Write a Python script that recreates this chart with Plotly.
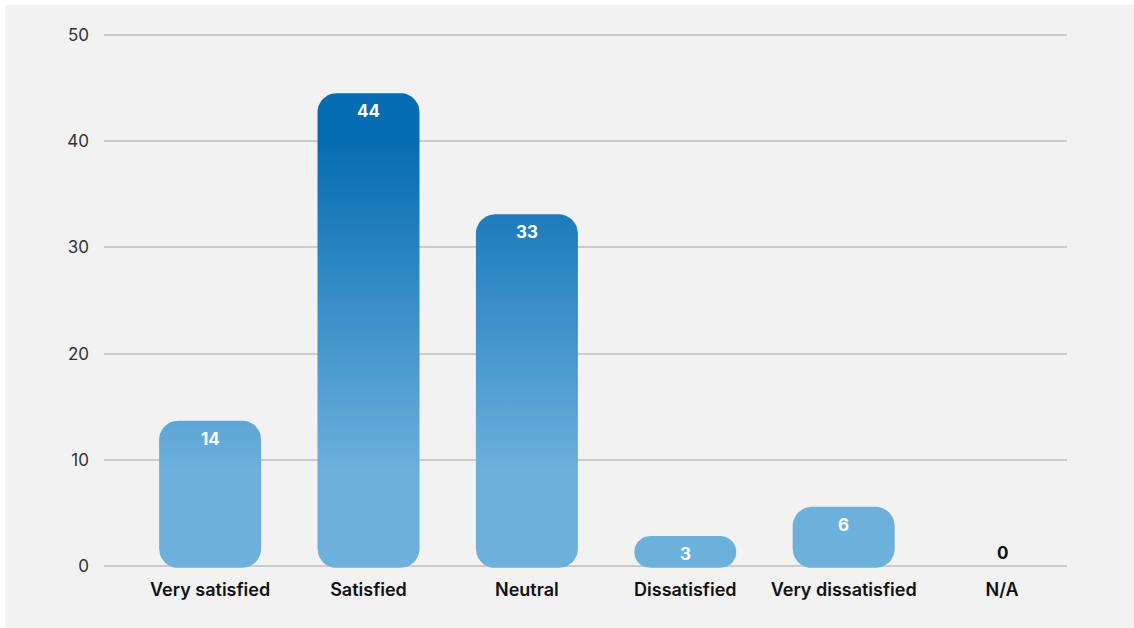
import plotly.graph_objects as go
import math

# ---- data ----
categories = ["Very satisfied", "Satisfied", "Neutral", "Dissatisfied", "Very dissatisfied", "N/A"]
bar_heights = [13.7, 44.5, 33.1, 2.85, 5.6, 0]   # bar heights as drawn
value_labels = [14, 44, 33, 3, 6, 0]              # labels printed on the bars
y_ticks = [0, 10, 20, 30, 40, 50]

# ---- layout constants ----
W, H = 1134, 628
ML, MR, MT, MB = 104, 67, 24, 51
X_RANGE = [-0.67, 5.41]
Y_RANGE = [-1, 51]
plot_w = W - ML - MR
plot_h = H - MT - MB
px_per_x = plot_w / (X_RANGE[1] - X_RANGE[0])
px_per_y = plot_h / (Y_RANGE[1] - Y_RANGE[0])

BAR_W_PX = 102
RADIUS_PX = 19
BASE_PX = 1.5
LIGHT = "#6cb0dc"
DARK = "#066db2"
FONT = "Inter, Lato, sans-serif"


def rounded_bar(xc, v):
    """outline of a fully rounded bar, computed from its value through the axis scales"""
    h_px = v * px_per_y + BASE_PX
    r_px = min(RADIUS_PX, h_px / 2, BAR_W_PX / 2)
    rx = r_px / px_per_x
    ry = r_px / px_per_y
    hw = BAR_W_PX / 2 / px_per_x
    y0 = -BASE_PX / px_per_y
    y1 = v
    xs, ys = [], []
    n = 10
    corners = [
        (xc + hw - rx, y0 + ry, -90),
        (xc + hw - rx, y1 - ry, 0),
        (xc - hw + rx, y1 - ry, 90),
        (xc - hw + rx, y0 + ry, 180),
    ]
    for cx, cy, a0 in corners:
        for i in range(n + 1):
            a = math.radians(a0 + 90 * i / n)
            xs.append(cx + rx * math.cos(a))
            ys.append(cy + ry * math.sin(a))
    xs.append(xs[0])
    ys.append(ys[0])
    return xs, ys


fig = go.Figure()

for i, (cat, v) in enumerate(zip(categories, bar_heights)):
    if v <= 0:
        continue
    xs, ys = rounded_bar(i, v)
    fig.add_trace(go.Scatter(
        x=xs, y=ys, mode="lines", fill="toself",
        line=dict(width=0, color=LIGHT),
        fillgradient=dict(type="vertical", colorscale=[[0, LIGHT], [1, DARK]], start=9, stop=40),
        hoverinfo="skip", showlegend=False, name=cat,
    ))

annotations = []
for i, (v, lab) in enumerate(zip(bar_heights, value_labels)):
    if v > 0:
        annotations.append(dict(
            x=i, y=v, xref="x", yref="y", text=str(lab), showarrow=False,
            yanchor="top", yshift=-6,
            font=dict(family=FONT, size=17, color="white", weight=700),
        ))
    else:
        annotations.append(dict(
            x=i, y=v, xref="x", yref="y", text=str(lab), showarrow=False,
            yanchor="bottom", yshift=1,
            font=dict(family=FONT, size=17, color="#111111", weight=700),
        ))

fig.update_layout(
    width=W, height=H,
    margin=dict(l=ML, r=MR, t=MT, b=MB, pad=0),
    paper_bgcolor="white",
    plot_bgcolor="rgba(0,0,0,0)",
    showlegend=False,
    annotations=annotations,
    shapes=[dict(
        type="rect", xref="paper", yref="paper", layer="below",
        x0=(5 - ML) / plot_w, x1=(W - ML) / plot_w + 0.01,
        y0=-(MB + 5) / plot_h, y1=(H - MB - 5) / plot_h,
        fillcolor="#f2f2f2", line=dict(width=0),
    )],
    xaxis=dict(
        range=X_RANGE, tickvals=list(range(len(categories))),
        ticktext=categories,
        showgrid=False, zeroline=False, showline=False, ticks="",
        tickfont=dict(family=FONT, size=18, color="#111111", weight=600),
        fixedrange=True,
    ),
    yaxis=dict(
        range=Y_RANGE, tickvals=y_ticks, showgrid=True, gridcolor="#cbcbcb", gridwidth=2,
        zeroline=False, showline=False, ticks="", ticklabelstandoff=14,
        tickfont=dict(family=FONT, size=17, color="#333333"),
        fixedrange=True,
    ),
)

fig.write_html("out.html")
